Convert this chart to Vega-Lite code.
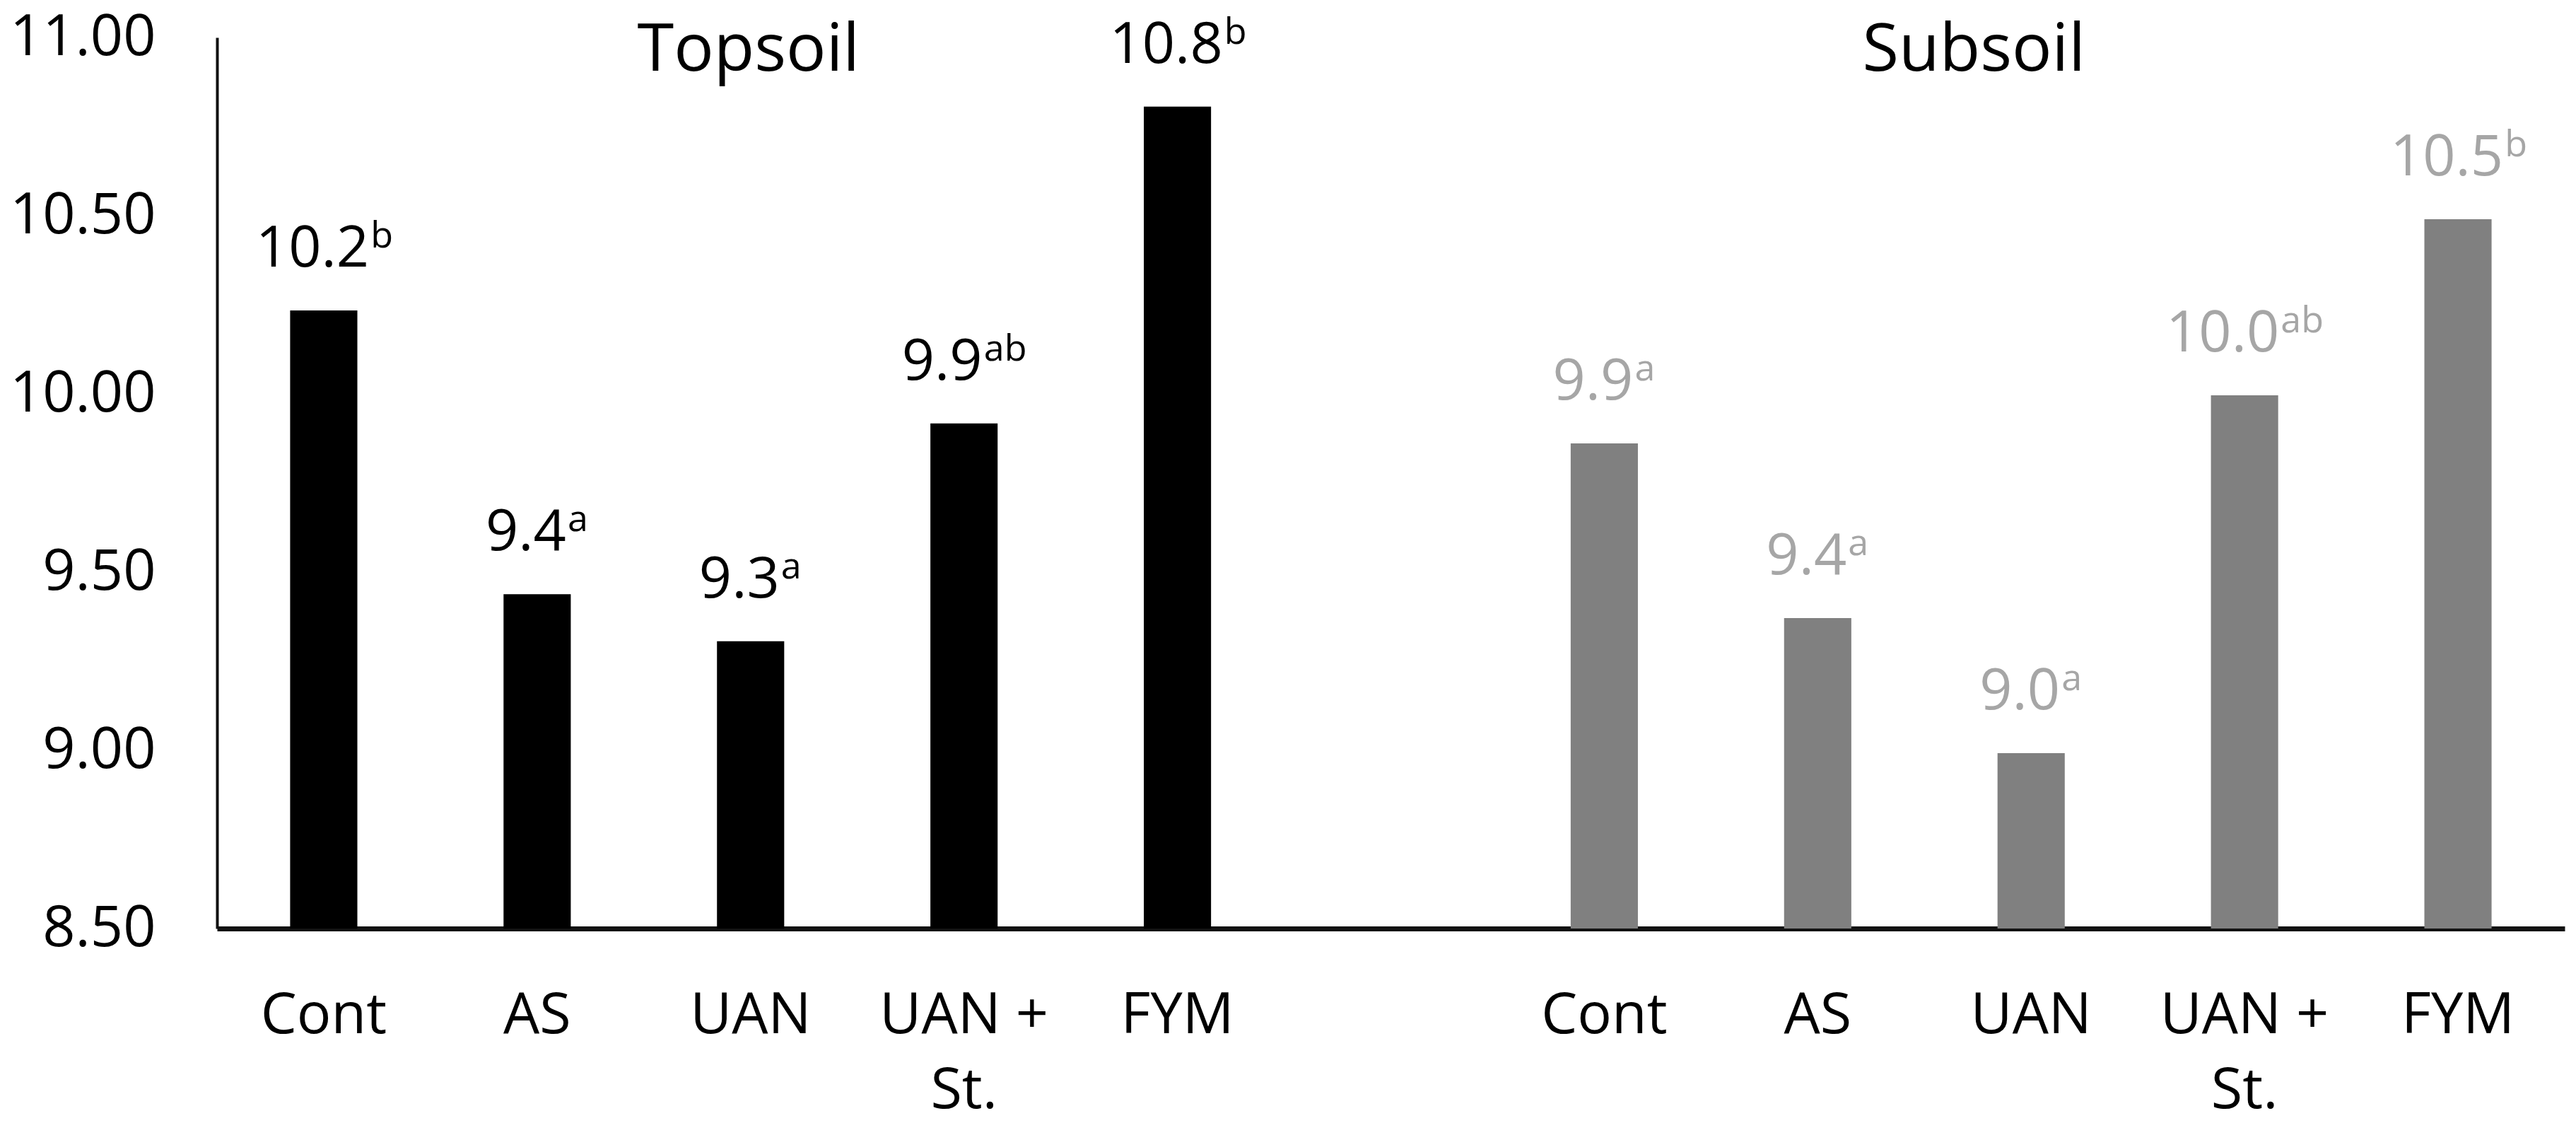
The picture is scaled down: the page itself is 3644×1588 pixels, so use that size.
{
  "$schema": "https://vega.github.io/schema/vega-lite/v6.json",
  "width": 3321,
  "height": 1260,
  "autosize": {"type": "none"},
  "padding": {"left": 307, "top": 53, "right": 16, "bottom": 275},
  "background": "white",
  "config": {
    "view": {"stroke": null},
    "font": "Open Sans",
    "axis": {"grid": false, "ticks": false, "tickSize": 0},
    "axisY": {
      "labelFontSize": 81,
      "labelFont": "Open Sans",
      "labelColor": "#000000",
      "labelPadding": 87,
      "labelLimit": 500,
      "labelFlush": false,
      "domainWidth": 4,
      "domainColor": "#111111",
      "ticks": false
    }
  },
  "data": {
    "values": [
      {"key": "T:Cont", "group": "Topsoil", "value": 10.234, "val": "10.2", "sup": "b"},
      {"key": "T:AS", "group": "Topsoil", "value": 9.438, "val": "9.4", "sup": "a"},
      {"key": "T:UAN", "group": "Topsoil", "value": 9.306, "val": "9.3", "sup": "a"},
      {"key": "T:UAN +|St.", "group": "Topsoil", "value": 9.917, "val": "9.9", "sup": "ab"},
      {"key": "T:FYM", "group": "Topsoil", "value": 10.806, "val": "10.8", "sup": "b"},
      {"key": "S:Cont", "group": "Subsoil", "value": 9.861, "val": "9.9", "sup": "a"},
      {"key": "S:AS", "group": "Subsoil", "value": 9.371, "val": "9.4", "sup": "a"},
      {"key": "S:UAN", "group": "Subsoil", "value": 8.992, "val": "9.0", "sup": "a"},
      {"key": "S:UAN +|St.", "group": "Subsoil", "value": 9.996, "val": "10.0", "sup": "ab"},
      {"key": "S:FYM", "group": "Subsoil", "value": 10.49, "val": "10.5", "sup": "b"}
    ]
  },
  "encoding": {
    "x": {
      "field": "key",
      "type": "nominal",
      "sort": null,
      "scale": {
        "domain": ["T:Cont", "T:AS", "T:UAN", "T:UAN +|St.", "T:FYM", "G:", "S:Cont", "S:AS", "S:UAN", "S:UAN +|St.", "S:FYM"],
        "paddingInner": 0.685,
        "paddingOuter": 0.3425
      },
      "axis": {
        "title": null,
        "labelExpr": "split(split(datum.label, ':')[1], '|')",
        "labelFontSize": 81,
        "labelFont": "Open Sans",
        "labelColor": "#000000",
        "labelPadding": 83,
        "labelAngle": 0,
        "labelLineHeight": 106,
        "labelLimit": 500,
        "labelOverlap": false,
        "domainWidth": 7,
        "domainColor": "#111111",
        "ticks": false
      }
    }
  },
  "layer": [
    {
      "mark": {"type": "bar"},
      "encoding": {
        "y": {
          "field": "value",
          "type": "quantitative",
          "title": null,
          "scale": {"domain": [8.5, 11], "zero": false, "nice": false},
          "axis": {"values": [8.5, 9, 9.5, 10, 10.5, 11], "format": ".2f"}
        },
        "y2": {"datum": 8.5},
        "color": {
          "field": "group",
          "type": "nominal",
          "scale": {"domain": ["Topsoil", "Subsoil"], "range": ["#000000", "#808080"]},
          "legend": null
        }
      }
    },
    {
      "mark": {
        "type": "text",
        "baseline": "alphabetic",
        "align": "center",
        "font": "Open Sans",
        "fontSize": 81,
        "dy": -62,
        "dx": {"expr": "-(length(datum.sup) * 30 + 2) / 2"}
      },
      "encoding": {
        "y": {
          "field": "value",
          "type": "quantitative",
          "title": null,
          "axis": {"values": [8.5, 9, 9.5, 10, 10.5, 11], "format": ".2f"}
        },
        "text": {"field": "val"},
        "color": {
          "condition": {"test": "datum.group === 'Subsoil'", "value": "#A6A6A6"},
          "value": "#000000"
        }
      }
    },
    {
      "mark": {
        "type": "text",
        "baseline": "alphabetic",
        "align": "left",
        "font": "Open Sans",
        "fontSize": 52,
        "dy": -89,
        "dx": {"expr": "((length(datum.val) - 1) * 46.3 + 21.5) / 2 + 1 - length(datum.sup) * 15"}
      },
      "encoding": {
        "y": {
          "field": "value",
          "type": "quantitative",
          "title": null,
          "axis": {"values": [8.5, 9, 9.5, 10, 10.5, 11], "format": ".2f"}
        },
        "text": {"field": "sup"},
        "color": {
          "condition": {"test": "datum.group === 'Subsoil'", "value": "#A6A6A6"},
          "value": "#000000"
        }
      }
    },
    {
      "data": {
        "values": [
          {"name": "Topsoil", "key": "T:UAN"},
          {"name": "Subsoil", "key": "S:UAN"}
        ]
      },
      "mark": {
        "type": "text",
        "baseline": "alphabetic",
        "align": "center",
        "font": "Open Sans",
        "fontSize": 94,
        "fill": "#000000",
        "dy": 47,
        "dx": {"expr": "datum.name === 'Subsoil' ? -81 : -3"}
      },
      "encoding": {
        "y": {
          "datum": 11,
          "title": null,
          "axis": {"values": [8.5, 9, 9.5, 10, 10.5, 11], "format": ".2f"}
        },
        "text": {"field": "name"}
      }
    }
  ]
}
